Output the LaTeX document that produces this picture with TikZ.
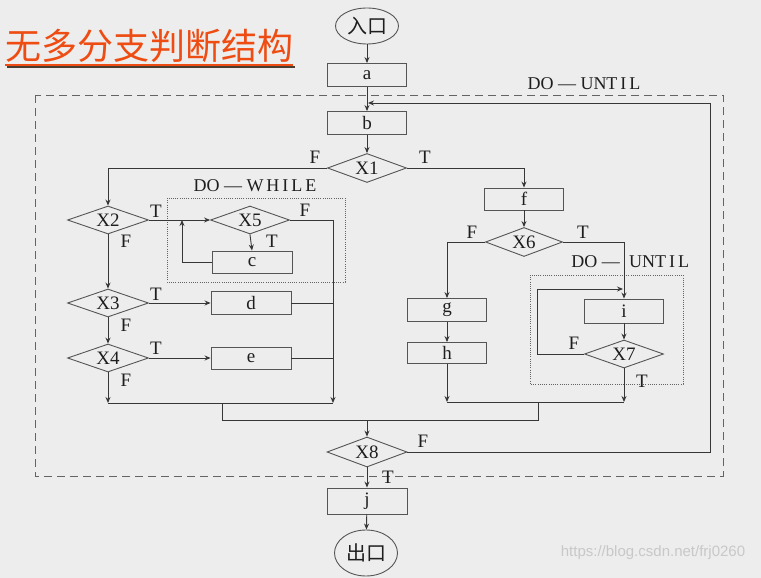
\documentclass[tikz,border=0pt]{standalone}
\usepackage{fontspec}
\setmainfont{Liberation Serif}
\newfontfamily\cjk{Noto Sans CJK SC}
\newfontfamily\wmfont{Liberation Sans}
\usetikzlibrary{shapes.geometric,arrows.meta}
\definecolor{bg}{RGB}{237,237,237}
\definecolor{ln}{RGB}{55,55,55}
\definecolor{boxc}{RGB}{85,85,85}
\definecolor{txt}{RGB}{30,30,30}
\definecolor{ttl}{RGB}{238,76,18}
\definecolor{shd}{RGB}{75,60,50}
\definecolor{dsh}{RGB}{100,100,100}
\begin{document}
\begin{tikzpicture}[x=1pt,y=-1pt,
  box/.style={draw=boxc,line width=0.9pt,minimum width=79pt,minimum height=23pt,inner sep=0pt,text=txt,font=\fontsize{19}{19}\selectfont},
  dia/.style={draw=boxc,line width=0.9pt,shape=diamond,aspect=2.7,inner sep=0pt,minimum width=79pt,minimum height=29pt,text=txt,font=\fontsize{19}{19}\selectfont},
  term/.style={draw=boxc,line width=0.9pt,shape=ellipse,inner sep=0pt,minimum width=63pt,minimum height=36pt,text=txt,font=\cjk\fontsize{20}{20}\selectfont},
  lbl/.style={inner sep=0pt,text=txt,font=\fontsize{19}{19}\selectfont},
  conn/.style={draw=ln,line width=0.9pt},
  arr/.style={conn,-{Stealth[length=6pt,width=5pt]}},
  outerdash/.style={draw=dsh,line width=0.9pt,dash pattern=on 8pt off 5pt},
  innerdot/.style={draw=dsh,line width=0.8pt,dash pattern=on 1pt off 1.2pt}
]
\fill[bg] (0,0) rectangle (761,578);
\useasboundingbox (0,0) rectangle (761,578);

% title
\node[anchor=base west,inner sep=0pt,text=ttl,font=\cjk\fontsize{36}{36}\selectfont] (title) at (5,60) {无多分支判断结构};
\draw[shd,line width=2.5pt] (7,67) -- (295,67);
\draw[ttl,line width=2.5pt] (5,65) -- (293,65);

% frames
\draw[outerdash] (35,95) rectangle (723,476);
\draw[innerdot] (167,198) rectangle (345,282);
\draw[innerdot] (530,275) rectangle (683,384);

% nodes
\node[term] (entry) at (367,26) {入口};
\node[box] (a) at (367,75) {a};
\node[box] (b) at (367,123) {b};
\node[dia] (X1) at (367,168) {X1};
\node[dia,minimum width=81pt,minimum height=28pt] (X2) at (108,220) {X2};
\node[dia,minimum width=81pt,minimum height=28pt] (X3) at (108,303) {X3};
\node[dia,minimum width=81pt,minimum height=28pt] (X4) at (108,358) {X4};
\node[dia,minimum height=28pt] (X5) at (250,220) {X5};
\node[box,minimum width=80pt,minimum height=22pt] (c) at (252,262) {c};
\node[box,minimum width=80pt] (d) at (251,303) {d};
\node[box,minimum width=80pt,minimum height=22pt] (e) at (251,358) {e};
\node[box,minimum height=22pt] (f) at (524,199) {f};
\node[dia,minimum width=77pt] (X6) at (524,242) {X6};
\node[box] (g) at (447,310) {g};
\node[box,minimum height=21pt] (h) at (447,353) {h};
\node[box,minimum height=24pt] (i) at (624,311) {i};
\node[dia,minimum height=28pt] (X7) at (624,354) {X7};
\node[dia,minimum width=80pt,minimum height=30pt] (X8) at (367,452) {X8};
\node[box,minimum width=80pt,minimum height=26pt] (j) at (367,501) {j};
\node[term,minimum height=46pt] (exit) at (366,553) {出口};

% coordinates
\coordinate (cl) at (182,220);
\coordinate (colB) at (333,403);
\coordinate (lB) at (108,403);
\coordinate (jL) at (222,403);
\coordinate (jR2) at (538,420);
\coordinate (jR) at (538,402);
\coordinate (jC) at (367,420);
\coordinate (rL) at (447,402);
\coordinate (rR) at (624,402);
\coordinate (lp) at (537,289);
\coordinate (lpE) at (623,289);
\coordinate (fbk) at (710,103);
\coordinate (fbt) at (368,103);

% connectors
\draw[arr] (entry) -- (a);
\draw[arr] (a) -- (b);
\draw[arr] (b) -- (X1);
\draw[arr] (X1.west) -| (X2.north);
\draw[arr] (X1.east) -| (f.north);
\draw[arr] (X2.east) -- (X5.west);
\draw[arr] (X5.south) -- (c.north);
\draw[arr] (c.west) -| (cl);
\draw[arr] (X5.east) -| (colB);
\draw[arr] (X2.south) -- (X3.north);
\draw[arr] (X3.south) -- (X4.north);
\draw[arr] (X4.south) -- (lB);
\draw[arr] (X3.east) -- (d.west);
\draw[arr] (X4.east) -- (e.west);
\draw[conn] (d.east) -- (d.east -| colB);
\draw[conn] (e.east) -- (e.east -| colB);
\draw[conn] (lB) -- (colB);
\draw[conn] (jL) |- (jR2) -- (jR);
\draw[arr] (jC) -- (X8.north);
\draw[arr] (f) -- (X6);
\draw[arr] (X6.west) -| (g.north);
\draw[arr] (g) -- (h);
\draw[arr] (h.south) -- (rL);
\draw[arr] (X6.east) -| (i.north);
\draw[arr] (i) -- (X7);
\draw[arr] (X7.south) -- (rR);
\draw[arr] (X7.west) -| (lp) -- (lpE);
\draw[conn] (rL) -- (rR);
\draw[arr] (X8.east) -| (fbk) -- (fbt);
\draw[arr] (X8) -- (j);
\draw[arr] (j) -- (exit);

% labels
\node[lbl] (l1F) at (315,157) {F};
\node[lbl] (l1T) at (425,157) {T};
\node[lbl] (l2T) at (156,211) {T};
\node[lbl] (l2F) at (126,241) {F};
\node[lbl] (l3T) at (156,294) {T};
\node[lbl] (l3F) at (126,325) {F};
\node[lbl] (l4T) at (156,348) {T};
\node[lbl] (l4F) at (126,380) {F};
\node[lbl] (l5F) at (305,210) {F};
\node[lbl] (l5T) at (272,241) {T};
\node[lbl] (l6F) at (472,232) {F};
\node[lbl] (l6T) at (583,232) {T};
\node[lbl] (l7F) at (574,343) {F};
\node[lbl] (l7T) at (642,381) {T};
\node[lbl] (l8F) at (423,441) {F};
\node[lbl] (l8T) at (388,477) {T};
\node[lbl,font=\fontsize{18}{18}\selectfont] (dowhile) at (255,186) {DO — W\,H\,I\,L\,E};
\node[lbl,font=\fontsize{18}{18}\selectfont] (dountil) at (584,84) {DO — UNT\,I\,L};
\node[lbl,font=\fontsize{18}{18}\selectfont,anchor=east] (do2) at (620,262) {DO —};
\node[lbl,font=\fontsize{18}{18}\selectfont,anchor=west] (until2) at (629,262) {UNT\,I\,L};

% watermark
\node[inner sep=0pt,text={rgb,255:red,200;green,200;blue,200},font=\wmfont\fontsize{15}{15}\selectfont] (wm) at (653,553) {https://blog.csdn.net/frj0260};
\end{tikzpicture}
\end{document}
